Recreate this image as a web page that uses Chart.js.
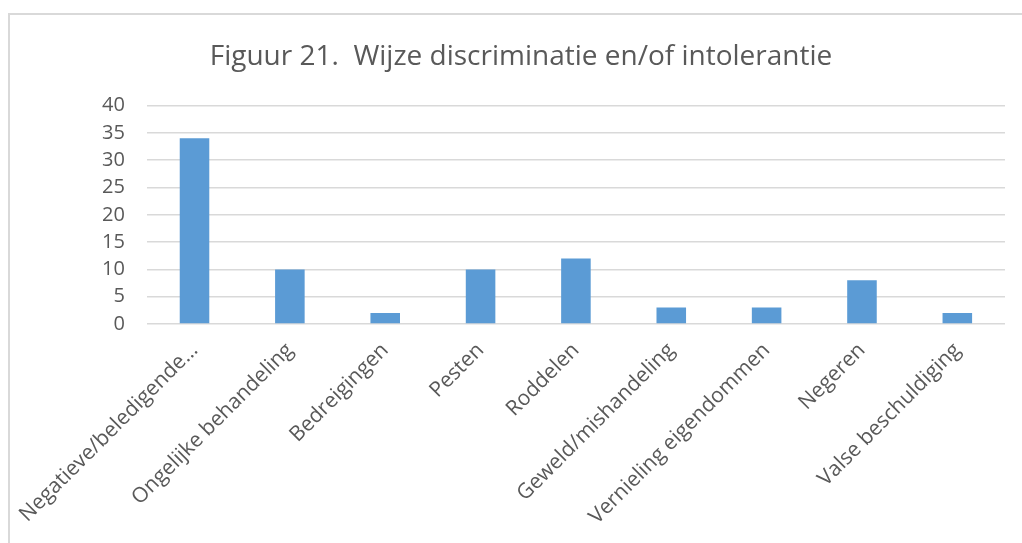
<!DOCTYPE html>
<html>
<head>
<meta charset="utf-8">
<script src="https://cdn.jsdelivr.net/npm/chart.js@4"></script>
<style>
    html, body { margin: 0; padding: 0; background: #fff; overflow: hidden; }
    #frame {
        position: absolute; left: 8px; top: 13px;
        width: 1020px; height: 540px;
        border: 2px solid #d9d9d9;
        box-sizing: border-box;
    }
    #wrap { position: absolute; left: 0; top: 0; width: 1016px; height: 536px; }
</style>
</head>
<body>
<div id="frame"><div id="wrap"><canvas id="chart"></canvas></div></div>
<script>
// Gegevens
const categories = [
    'Negatieve/beledigende\u2026',
    'Ongelijke behandeling',
    'Bedreigingen',
    'Pesten',
    'Roddelen',
    'Geweld/mishandeling',
    'Vernieling eigendommen',
    'Negeren',
    'Valse beschuldiging'
];
const values = [34, 10, 2, 10, 12, 3, 3, 8, 2];
const yTicks = [0, 5, 10, 15, 20, 25, 30, 35, 40];
const titleText = 'Figuur 21.  Wijze discriminatie en/of intolerantie';

const fontFam = '"Open Sans", "Noto Sans", sans-serif';
const textColor = '#595959';

const ctx = document.getElementById('chart').getContext('2d');
new Chart(ctx, {
    type: 'bar',
    data: {
        labels: categories,
        datasets: [{
            label: 'Aantal',
            data: values,
            backgroundColor: '#5b9bd5',
            categoryPercentage: 1.0,
            barPercentage: 0.31
        }]
    },
    options: {
        responsive: true,
        maintainAspectRatio: false,
        animation: false,
        layout: { padding: { left: 27, right: 21, top: 4, bottom: 0 } },
        plugins: {
            legend: { display: false },
            tooltip: { enabled: false },
            title: {
                display: true,
                text: titleText,
                color: textColor,
                font: { family: fontFam, size: 28, weight: 'normal' },
                padding: { top: 21, bottom: 32 }
            }
        },
        scales: {
            x: {
                grid: { display: false },
                border: { display: false },
                afterFit: axis => { axis.height = 227; },
                ticks: {
                    color: textColor,
                    font: { family: fontFam, size: 21 },
                    maxRotation: 45,
                    minRotation: 45,
                    autoSkip: false,
                    padding: 6
                }
            },
            y: {
                min: 0,
                max: 40,
                afterBuildTicks: axis => { axis.ticks = yTicks.map(v => ({ value: v })); },
                afterFit: axis => { axis.width = 104; },
                grid: { color: '#d9d9d9', lineWidth: 1.5, drawTicks: false },
                border: { display: false },
                ticks: {
                    color: textColor,
                    font: { family: fontFam, size: 20 },
                    padding: 22,
                    autoSkip: false
                }
            }
        }
    }
});
</script>
</body>
</html>
